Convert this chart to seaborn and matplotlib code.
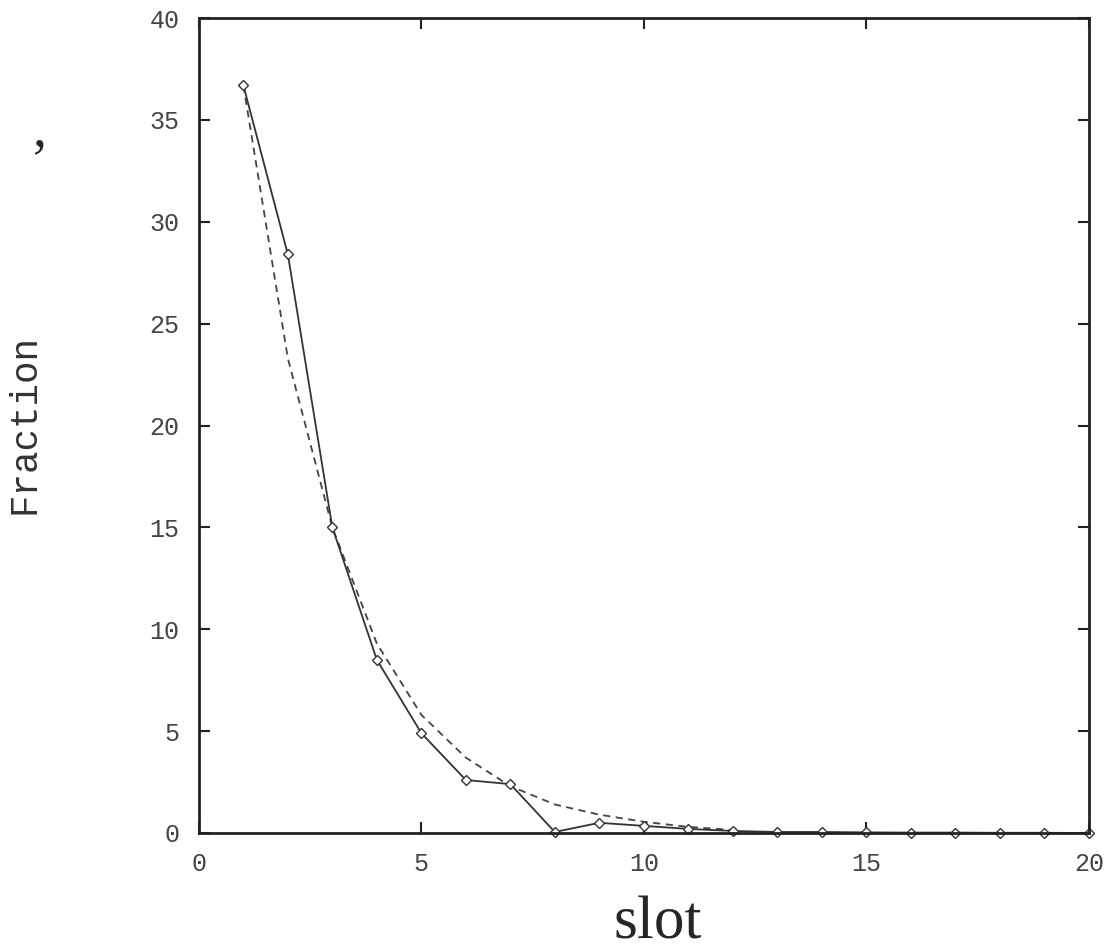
import matplotlib
matplotlib.use("Agg")
import matplotlib.pyplot as plt
import seaborn as sns
import pandas as pd

slot = list(range(1, 21))
observed = [36.7, 28.4, 15.0, 8.5, 4.9, 2.6, 2.4, 0.05, 0.5, 0.35,
            0.2, 0.1, 0.05, 0.05, 0.03, 0.02, 0.02, 0.01, 0.01, 0.0]
model_slot = list(range(1, 13))
model = [36.7, 23.3, 15.0, 9.3, 5.8, 3.7, 2.3, 1.4, 0.9, 0.55, 0.3, 0.15]

df_obs = pd.DataFrame({"slot": slot, "Fraction": observed})
df_mod = pd.DataFrame({"slot": model_slot, "Fraction": model})

sns.set_style("ticks")
fig = plt.figure(figsize=(11.11, 9.52), dpi=100)
ax = fig.add_axes([0.179, 0.125, 0.801, 0.856])

sns.lineplot(data=df_mod, x="slot", y="Fraction", ax=ax, color="#444444",
             linewidth=1.3, linestyle=(0, (4, 3)))
sns.lineplot(data=df_obs, x="slot", y="Fraction", ax=ax, color="#333333",
             linewidth=1.3, marker="D", markersize=5.5, markerfacecolor="white",
             markeredgecolor="#333333", markeredgewidth=1.0, clip_on=False)

ax.set_xlim(0, 20)
ax.set_ylim(0, 40)
ax.set_xticks([0, 5, 10, 15, 20])
ax.set_yticks(range(0, 41, 5))
for s in ax.spines.values():
    s.set_linewidth(2)
    s.set_color("#222222")
    s.set_visible(True)
ax.tick_params(direction="in", length=8, width=1.5, top=True, right=True,
               labelsize=18, colors="#222222")
ax.tick_params(axis="x", pad=14)
ax.tick_params(axis="y", pad=14)
for lab in ax.get_xticklabels() + ax.get_yticklabels():
    lab.set_family("Liberation Mono")
    lab.set_color("#444444")

ax.set_xlabel("")
ax.set_ylabel("")
fig.text(0.592, 0.014, "slot", family="Liberation Serif", fontsize=44,
         ha="center", va="baseline")
fig.text(0.022, 0.555, "Fraction", family="Liberation Mono", fontsize=27,
         rotation=90, ha="center", va="center", color="#333333")
fig.text(0.036, 0.862, ",", family="Liberation Serif", fontsize=40,
         ha="center", va="center")

fig.savefig("out.png", dpi=100)
